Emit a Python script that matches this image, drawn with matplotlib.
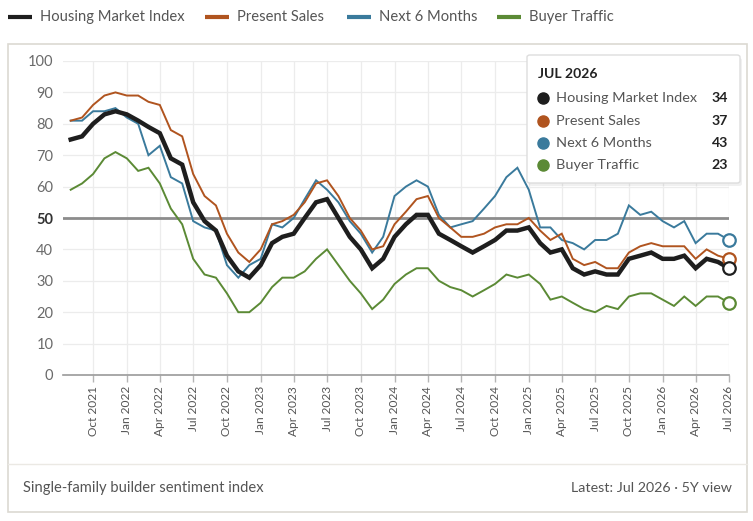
import matplotlib
matplotlib.use("Agg")
import matplotlib.pyplot as plt
import matplotlib.dates as mdates
from matplotlib.lines import Line2D
from matplotlib.patches import Rectangle, FancyBboxPatch
import pandas as pd

plt.rcParams["font.family"] = ["Lato", "DejaVu Sans"]

# monthly readings, Aug 2021 .. Jul 2026
months = pd.date_range("2021-08-01", "2026-07-01", freq="MS")

hmi = [75, 76, 80, 83, 84, 83, 81, 79, 77, 69, 67, 55, 49, 46, 38, 33, 31,
       35, 42, 44, 45, 50, 55, 56, 50, 44, 40, 34, 37, 44, 48, 51, 51, 45,
       43, 41, 39, 41, 43, 46, 46, 47, 42, 39, 40, 34, 32, 33, 32, 32, 37,
       38, 39, 37, 37, 38, 34, 37, 36, 34]
present_sales = [81, 82, 86, 89, 90, 89, 89, 87, 86, 78, 76, 64, 57, 54, 45,
                 39, 36, 40, 48, 49, 51, 55, 61, 62, 57, 50, 46, 40, 41, 48,
                 52, 56, 57, 50, 47, 44, 44, 45, 47, 48, 48, 50, 46, 43, 45,
                 37, 35, 36, 34, 34, 39, 41, 42, 41, 41, 41, 37, 40, 38, 37]
next_6_months = [81, 81, 84, 84, 85, 82, 80, 70, 73, 63, 61, 49, 47, 46, 35,
                 31, 35, 37, 48, 47, 50, 56, 62, 59, 55, 49, 45, 39, 44, 57,
                 60, 62, 60, 51, 47, 48, 49, 53, 57, 63, 66, 59, 47, 47, 43,
                 42, 40, 43, 43, 45, 54, 51, 52, 49, 47, 49, 42, 45, 45, 43]
buyer_traffic = [59, 61, 64, 69, 71, 69, 65, 66, 61, 53, 48, 37, 32, 31, 26,
                 20, 20, 23, 28, 31, 31, 33, 37, 40, 35, 30, 26, 21, 24, 29,
                 32, 34, 34, 30, 28, 27, 25, 27, 29, 32, 31, 32, 29, 24, 25,
                 23, 21, 20, 22, 21, 25, 26, 26, 24, 22, 25, 22, 25, 25, 23]

series_names = ["Housing Market Index", "Present Sales", "Next 6 Months", "Buyer Traffic"]
series_colors = ["#1e1e1e", "#b0541f", "#3a7a9c", "#5b8a35"]
series_widths = [3.2, 1.4, 1.4, 1.4]

text_gray = "#555555"
frame_gray = "#dcd9d2"

fig = plt.figure(figsize=(7.53, 5.21), dpi=100)
W, H = 753, 521

# outer card and footer separator
fig.patches.append(Rectangle((8 / W, 1 - 512 / H), 739 / W, 468 / H,
                             transform=fig.transFigure, facecolor="none",
                             edgecolor=frame_gray, linewidth=1.2, zorder=0))
fig.add_artist(Line2D([8 / W, 747 / W], [1 - 464 / H, 1 - 464 / H],
                      transform=fig.transFigure, color="#ebe9e4", linewidth=1))

ax = fig.add_axes([63 / W, 1 - 375 / H, 666 / W, 314 / H])

all_series = [hmi, present_sales, next_6_months, buyer_traffic]
# draw thin lines first, the HMI on top
order = [2, 1, 3, 0]
for k in order:
    ax.plot(months, all_series[k], color=series_colors[k],
            linewidth=series_widths[k], solid_joinstyle="miter", zorder=3 + (k == 0))
    ax.plot(months[-1:], all_series[k][-1:], marker="o", markersize=9,
            markerfacecolor="white", markeredgecolor=series_colors[k],
            markeredgewidth=1.6, linestyle="none", zorder=6, clip_on=False)

ax.axhline(50, color="#8c8c8c", linewidth=2, zorder=2)

ax.set_ylim(0, 100)
ax.set_yticks(range(0, 101, 10))
ax.set_xlim(pd.Timestamp("2021-07-11"), months[-1])
tick_dates = pd.date_range("2021-10-01", "2026-07-01", freq="3MS")
ax.set_xticks(tick_dates)
ax.xaxis.set_major_formatter(mdates.DateFormatter("%b %Y"))

ax.grid(True, color="#ececec", linewidth=0.9, zorder=0)
for s in ["left", "right", "top"]:
    ax.spines[s].set_visible(False)
ax.spines["bottom"].set_color("#9a9a9a")
ax.spines["bottom"].set_linewidth(1.2)
ax.tick_params(axis="x", colors="#b5b5b5", length=5, width=1, labelrotation=90,
               labelsize=8.6, labelcolor=text_gray, pad=3)
ax.tick_params(axis="y", length=0, labelsize=10.5, labelcolor="#6a6a6a", pad=7)
for lbl in ax.get_yticklabels():
    if lbl.get_text() == "50":
        lbl.set_fontweight("bold")
        lbl.set_color("#333333")

# top legend
legend_x = [8, 205, 347, 497]
for k, name in enumerate(series_names):
    x0 = legend_x[k] / W
    fig.add_artist(Line2D([x0, x0 + 24 / W], [1 - 17 / H] * 2,
                          transform=fig.transFigure, color=series_colors[k],
                          linewidth=3, solid_capstyle="butt"))
    fig.text(x0 + 32 / W, 1 - 17 / H, name, fontsize=10.6, color=text_gray,
             va="center", ha="left")

# tooltip box for the latest month, with a faint shadow
shadow = FancyBboxPatch((529 / W, 1 - 186 / H), 213 / W, 128 / H,
                        boxstyle="round,pad=0,rounding_size=0.004",
                        transform=fig.transFigure, facecolor="#000000",
                        alpha=0.06, edgecolor="none", zorder=9)
fig.add_artist(shadow)
tip = FancyBboxPatch((527 / W, 1 - 183 / H), 213 / W, 128 / H,
                     boxstyle="round,pad=0,rounding_size=0.004",
                     transform=fig.transFigure, facecolor="white",
                     edgecolor="#dddddd", linewidth=1, zorder=10)
fig.add_artist(tip)
fig.text(538 / W, 1 - 74 / H, "JUL 2026", fontsize=10, fontweight="bold",
         color="#222222", va="center", zorder=11)
row_y = [98, 121, 143, 165]
for k, name in enumerate(series_names):
    y = 1 - row_y[k] / H
    fig.add_artist(Line2D([543 / W], [y], transform=fig.transFigure, marker="o",
                          markersize=8, color=series_colors[k], linestyle="none",
                          zorder=11))
    fig.text(556 / W, y, name, fontsize=10.4, color=text_gray, va="center", zorder=11)
    fig.text(728 / W, y, str(all_series[k][-1]), fontsize=10.2, fontweight="bold",
             color="#222222", va="center", ha="right", zorder=11)

# footer
fig.text(23 / W, 1 - 488 / H, "Single-family builder sentiment index",
         fontsize=10.6, color=text_gray, va="center")
fig.text(732 / W, 1 - 488 / H, "Latest: Jul 2026 \u00b7 5Y view",
         fontsize=10.3, color=text_gray, va="center", ha="right")

fig.savefig("out.png", dpi=100)
